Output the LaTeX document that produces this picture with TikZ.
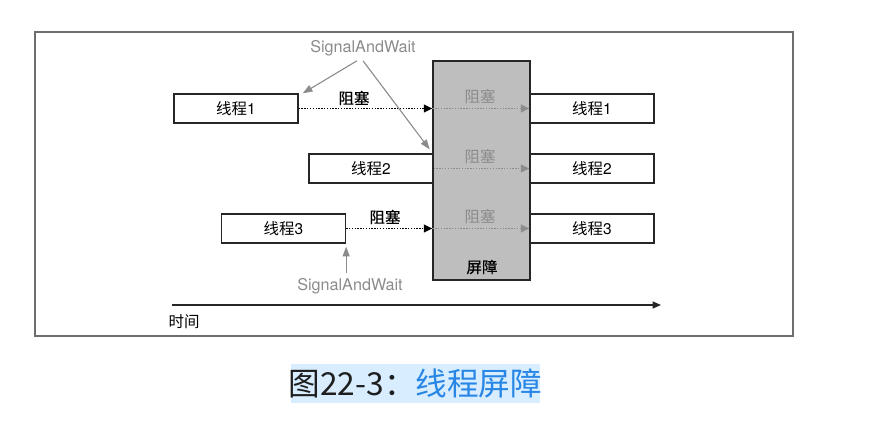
\documentclass[tikz,border=0pt]{standalone}
\usepackage{fontspec}
\setmainfont{TeX Gyre Heros}
\newfontfamily\cjk{Noto Sans CJK SC}
\newfontfamily\cjkmed[FakeBold=0.6]{Noto Sans CJK SC}
\usetikzlibrary{arrows.meta,positioning}
\definecolor{barriergray}{RGB}{190,190,190}
\definecolor{labelgray}{RGB}{140,140,140}
\definecolor{framegray}{RGB}{110,110,110}
\definecolor{capblue}{RGB}{40,135,230}
\definecolor{capback}{RGB}{216,237,255}
\definecolor{captext}{RGB}{30,30,30}
\tikzset{
  threadbox/.style={draw=black!85, fill=white, line width=0.9pt, minimum width=3.1cm,
    minimum height=0.725cm, inner sep=0pt, font=\fontsize{11}{13}\selectfont},
  blockarrow/.style={dash pattern=on 1pt off 1pt, line width=1.1pt, -{Triangle[length=6pt,width=5.5pt]}},
  passarrow/.style={dash pattern=on 1pt off 1pt, line width=0.9pt, labelgray, -{Triangle[length=6pt,width=5.5pt]}},
  sigarrow/.style={labelgray, line width=0.8pt, -{Triangle[length=7pt,width=5pt]}},
  blocklabel/.style={font=\cjkmed\fontsize{11}{13}\selectfont},
  passlabel/.style={font=\cjk\fontsize{11}{13}\selectfont, text=labelgray},
  siglabel/.style={font=\fontsize{11.5}{13}\selectfont, text=labelgray}
}
\begin{document}
\begin{tikzpicture}[x=0.025cm,y=-0.025cm]
		\useasboundingbox (0,0) rectangle (896,423);
		\draw[framegray, line width=0.8pt] (35,32) rectangle (793,336);
		\node[draw=black!85, fill=barriergray, line width=0.9pt, minimum width=2.425cm, minimum height=5.475cm, inner sep=0pt] (barrier) at (481.5,170.5) {};
		\node[blocklabel] (barrierlabel) at (482,267) {屏障};
		\node[threadbox] (thread1) at (236,108.5) {{\cjk 线程}1};
		\node[threadbox] (thread2) at (371,168.5) {{\cjk 线程}2};
		\node[threadbox] (thread3) at (283.5,228.5) {{\cjk 线程}3};
		\node[threadbox] (after1) at (592,108.5) {{\cjk 线程}1};
		\node[threadbox] (after2) at (592,168.5) {{\cjk 线程}2};
		\node[threadbox] (after3) at (592,228.5) {{\cjk 线程}3};
		\draw[blockarrow] (thread1.east) -- (thread1.east -| barrier.west);
		\draw[blockarrow] (thread3.east) -- (thread3.east -| barrier.west);
		\draw[passarrow] (thread1.east -| barrier.west) -- (after1.west);
		\draw[passarrow] (thread2.east) -- (after2.west);
		\draw[passarrow] (thread3.east -| barrier.west) -- (after3.west);
		\node[blocklabel] (block1) at (354,98) {阻塞};
		\node[blocklabel] (block3) at (385,217) {阻塞};
		\node[passlabel] (pass1) at (480,97) {阻塞};
		\node[passlabel] (pass2) at (480,157) {阻塞};
		\node[passlabel] (pass3) at (480,217) {阻塞};
		\node[siglabel] (sigtop) at (363,48) {SignalAndWait};
		\node[siglabel] (sigbot) at (350,286) {SignalAndWait};
		\draw[sigarrow] ([xshift=-0.15cm]sigtop.south) -- ([xshift=0.1cm]thread1.north east);
		\draw[sigarrow] (sigtop.south) -- ([xshift=-0.1cm,yshift=0.1cm]thread2.north east);
		\draw[sigarrow] (sigbot.north -| thread3.south east) -- ([yshift=-0.075cm]thread3.south east);
		\coordinate (tstart) at (172,305);
		\coordinate (tend) at (661,305);
		\draw[black!85, line width=0.9pt, -{Triangle[length=6pt,width=5pt]}] (tstart) -- (tend);
		\node[font=\cjk\fontsize{11}{13}\selectfont] (timelabel) at (184,322) {时间};
		\fill[capback] (291,364) rectangle (540,403);
		\node[font=\cjk\fontsize{22.5}{26}\selectfont, text=captext, inner sep=0pt] (caption) at (415.5,383.5) {图22-3：\textcolor{capblue}{线程屏障}};
	\end{tikzpicture}
\end{document}
